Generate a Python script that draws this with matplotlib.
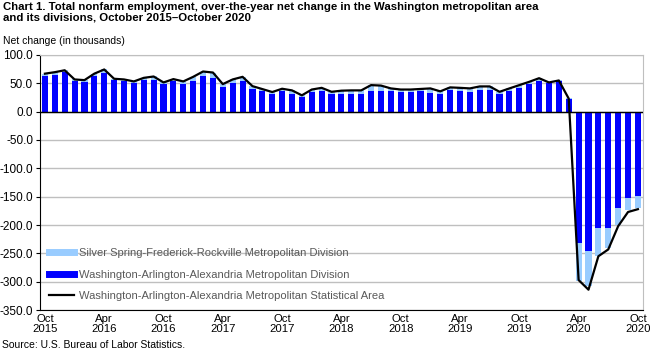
import matplotlib
matplotlib.use("Agg")
import matplotlib.pyplot as plt
from matplotlib.lines import Line2D
import numpy as np

plt.rcParams['font.family'] = ['Liberation Sans', 'DejaVu Sans']

# Oct 2015 .. Oct 2020 (61 months)
wash_div = [62.6, 64.4, 70.2, 53.9, 52.0, 62.0, 69.0, 55.6, 54.4, 49.8,
            55.0, 56.0, 48.6, 53.9, 48.6, 53.3, 62.6, 59.6, 42.8, 49.8,
            53.9, 40.4, 35.8, 31.0, 35.8, 31.0, 25.2, 34.0, 35.8, 30.5,
            32.0, 32.0, 32.0, 37.0, 37.0, 35.8, 34.0, 35.0, 37.0, 33.4,
            32.0, 38.0, 35.8, 34.0, 37.5, 38.6, 32.0, 37.0, 42.0, 48.0,
            54.4, 51.0, 53.3, 24.6, -231.0, -246.0, -206.0, -206.0, -169.5, -152.6,
            -148.0]
silver_div = [4.5, 5.2, 2.8, 2.9, 3.6, 5.0, 5.4, 2.4, 2.4, 3.5,
              4.6, 6.0, 2.9, 3.5, 4.7, 8.1, 8.2, 9.4, 5.8, 7.0,
              7.5, 4.6, 4.0, 3.6, 4.6, 6.5, 3.6, 5.0, 6.2, 4.5,
              5.0, 5.5, 5.5, 9.8, 9.0, 5.2, 5.0, 4.0, 3.0, 7.6,
              3.8, 4.8, 6.2, 7.0, 7.0, 5.9, 3.0, 4.0, 4.8, 4.6,
              4.6, 0.5, 1.7, -2.8, -67.0, -61.0, -48.0, -35.0, -31.0, -21.5,
              -21.5]
msa_total = [67.0, 69.6, 73.0, 56.8, 55.6, 67.0, 74.4, 58.0, 56.8, 53.3,
             59.6, 62.0, 51.5, 57.4, 53.3, 61.4, 70.8, 69.0, 48.6, 56.8,
             61.4, 45.0, 39.8, 34.6, 40.4, 37.5, 28.8, 39.0, 42.0, 35.0,
             37.0, 37.5, 37.5, 46.8, 46.0, 41.0, 39.0, 39.0, 40.0, 41.0,
             35.8, 42.8, 42.0, 41.0, 44.5, 44.5, 35.0, 41.0, 46.8, 52.6,
             59.0, 51.5, 55.0, 23.0, -297.0, -314.0, -255.0, -243.0, -202.0, -177.0,
             -172.0]
tick_labels = ["Oct\n2015", "Apr\n2016", "Oct\n2016", "Apr\n2017", "Oct\n2017",
               "Apr\n2018", "Oct\n2018", "Apr\n2019", "Oct\n2019", "Apr\n2020",
               "Oct\n2020"]

wash = np.array(wash_div)
silv = np.array(silver_div)
x = np.arange(len(wash))

fig = plt.figure(figsize=(6.5, 3.5), dpi=100)
ax = fig.add_axes([0.0615, 0.114, 0.9275, 0.729])

blue = '#0000FF'
light = '#99CCFF'
width = 0.62
ax.bar(x, wash, width=width, color=blue, zorder=2)
ax.bar(x, silv, width=width, bottom=wash, color=light, zorder=2)
ax.plot(x, msa_total, color='black', lw=1.6, zorder=3)

ax.set_xlim(-0.5, len(x) - 0.5)
ax.set_ylim(-350, 100)
ax.set_yticks(np.arange(-350, 101, 50))
ax.set_yticklabels([f"{v:.1f}" for v in np.arange(-350, 101, 50)], fontsize=8.5)
ax.yaxis.grid(True, color='#BFBFBF', lw=1, zorder=0)
ax.axhline(0, color='black', lw=1, zorder=4)
ax.set_xticks(x[::6])
ax.set_xticklabels(tick_labels, fontsize=8.2, linespacing=0.95)
ax.tick_params(axis='x', length=0, pad=3)
ax.tick_params(axis='y', length=3, color='black', pad=2)

for side in ['top', 'right']:
    ax.spines[side].set_color('#BFBFBF')
for side in ['left', 'bottom']:
    ax.spines[side].set_color('black')

handles = [Line2D([0], [0], color=light, lw=5),
           Line2D([0], [0], color=blue, lw=5),
           Line2D([0], [0], color='black', lw=1.6)]
labels = ["Silver Spring-Frederick-Rockville Metropolitan Division",
          "Washington-Arlington-Alexandria Metropolitan Division",
          "Washington-Arlington-Alexandria Metropolitan Statistical Area"]
leg = ax.legend(handles, labels, loc='lower left', bbox_to_anchor=(0.0, 0.0),
                frameon=False, fontsize=8, handlelength=2.3, handletextpad=0.4,
                labelspacing=1.05, borderaxespad=0.4)
for t in leg.get_texts():
    t.set_color('#595959')

fig.text(0.005, 0.995, "Chart 1. Total nonfarm employment, over-the-year net change in the Washington metropolitan area\nand its divisions, October 2015\u2013October 2020",
         fontsize=8.2, fontweight='bold', va='top', ha='left', linespacing=1.15)
fig.text(0.005, 0.883, "Net change (in thousands)", fontsize=7.5, va='center', ha='left')
fig.text(0.003, 0.0, "Source: U.S. Bureau of Labor Statistics.", fontsize=7.5, va='bottom', ha='left')

fig.savefig("out.png", dpi=100)
